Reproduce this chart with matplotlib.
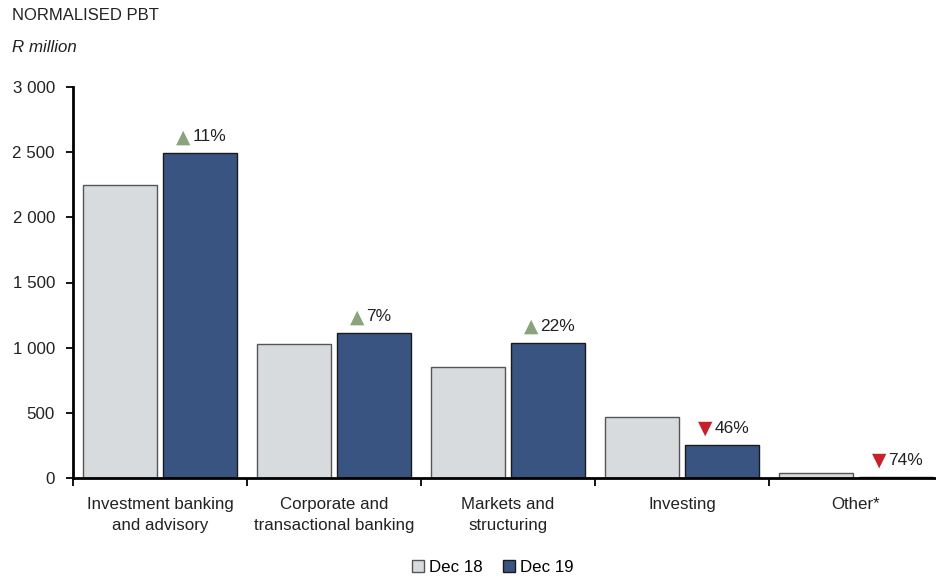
import matplotlib
matplotlib.use('Agg')
import matplotlib.pyplot as plt
import numpy as np
from matplotlib.patches import Patch
from matplotlib.ticker import FuncFormatter

plt.rcParams['font.family'] = ['Liberation Sans Narrow', 'Liberation Sans', 'DejaVu Sans']

# Datos
categorias = ['Investment banking\nand advisory', 'Corporate and\ntransactional banking',
              'Markets and\nstructuring', 'Investing', 'Other*']
dec18 = [2248, 1028, 852, 468, 38]
dec19 = [2490, 1110, 1036, 253, 10]
cambios = ['11%', '7%', '22%', '46%', '74%']
sube = [True, True, True, False, False]

col18 = '#d8dbde'
col19 = '#3a5482'
verde = '#8aa37c'
rojo = '#c8202a'

fig = plt.figure(figsize=(9.37, 5.8), dpi=100)
ax = fig.add_axes([73 / 937, 102 / 580, 870 / 937, 391 / 580])

x = np.arange(len(categorias))
w = 0.42
ax.bar(x - 0.23, dec18, w, color=col18, edgecolor='#555555', linewidth=1)
ax.bar(x + 0.23, dec19, w, color=col19, edgecolor='#1a1a1a', linewidth=1)

# Variación porcentual sobre cada barra de Dec 19
for xi, v, txt, up in zip(x, dec19, cambios, sube):
    sym = '▲' if up else '▼'
    ax.annotate(sym, xy=(xi + 0.23, v), xytext=(-12, 12), textcoords='offset points',
                ha='center', va='center', color=verde if up else rojo, fontsize=13.5,
                family='DejaVu Sans')
    ax.annotate(txt, xy=(xi + 0.23, v), xytext=(-5.5, 12), textcoords='offset points',
                ha='left', va='center', color='#222222', fontsize=12.5)

ax.set_xlim(-0.5, 4.5)
ax.set_ylim(0, 3000)
ax.set_yticks(np.arange(0, 3001, 500))
ax.yaxis.set_major_formatter(FuncFormatter(lambda v, p: f'{int(v):,}'.replace(',', ' ')))
ax.set_xticks(np.arange(-0.5, 4.6, 1))
ax.set_xticklabels([])
ax.set_xticks(x, minor=True)
ax.set_xticklabels(categorias, minor=True, fontsize=12.2, color='#222222', linespacing=1.45)
ax.tick_params(axis='x', which='minor', length=0, pad=14)
ax.tick_params(axis='x', which='major', length=6, width=1.3, direction='out')
ax.tick_params(axis='y', length=5, width=1.3, labelsize=12.2, labelcolor='#222222', pad=8)

for s in ['top', 'right']:
    ax.spines[s].set_visible(False)
for s in ['left', 'bottom']:
    ax.spines[s].set_linewidth(2)

fig.text(12 / 937, 1 - 16 / 580, 'NORMALISED PBT', fontsize=12, color='#222222',
         ha='left', va='center')
fig.text(12 / 937, 1 - 47 / 580, 'R million', fontsize=12.2, color='#222222',
         ha='left', va='center', style='italic')

handles = [Patch(facecolor=col18, edgecolor='#555555', label='Dec 18'),
           Patch(facecolor=col19, edgecolor='#1a1a1a', label='Dec 19')]
fig.legend(handles=handles, loc='center', bbox_to_anchor=(493 / 937, 1 - 567 / 580), ncol=2,
           frameon=False, fontsize=12.2, handlelength=0.7, handleheight=0.7,
           handletextpad=0.3, columnspacing=1.2)

fig.savefig('out.png', dpi=100)
